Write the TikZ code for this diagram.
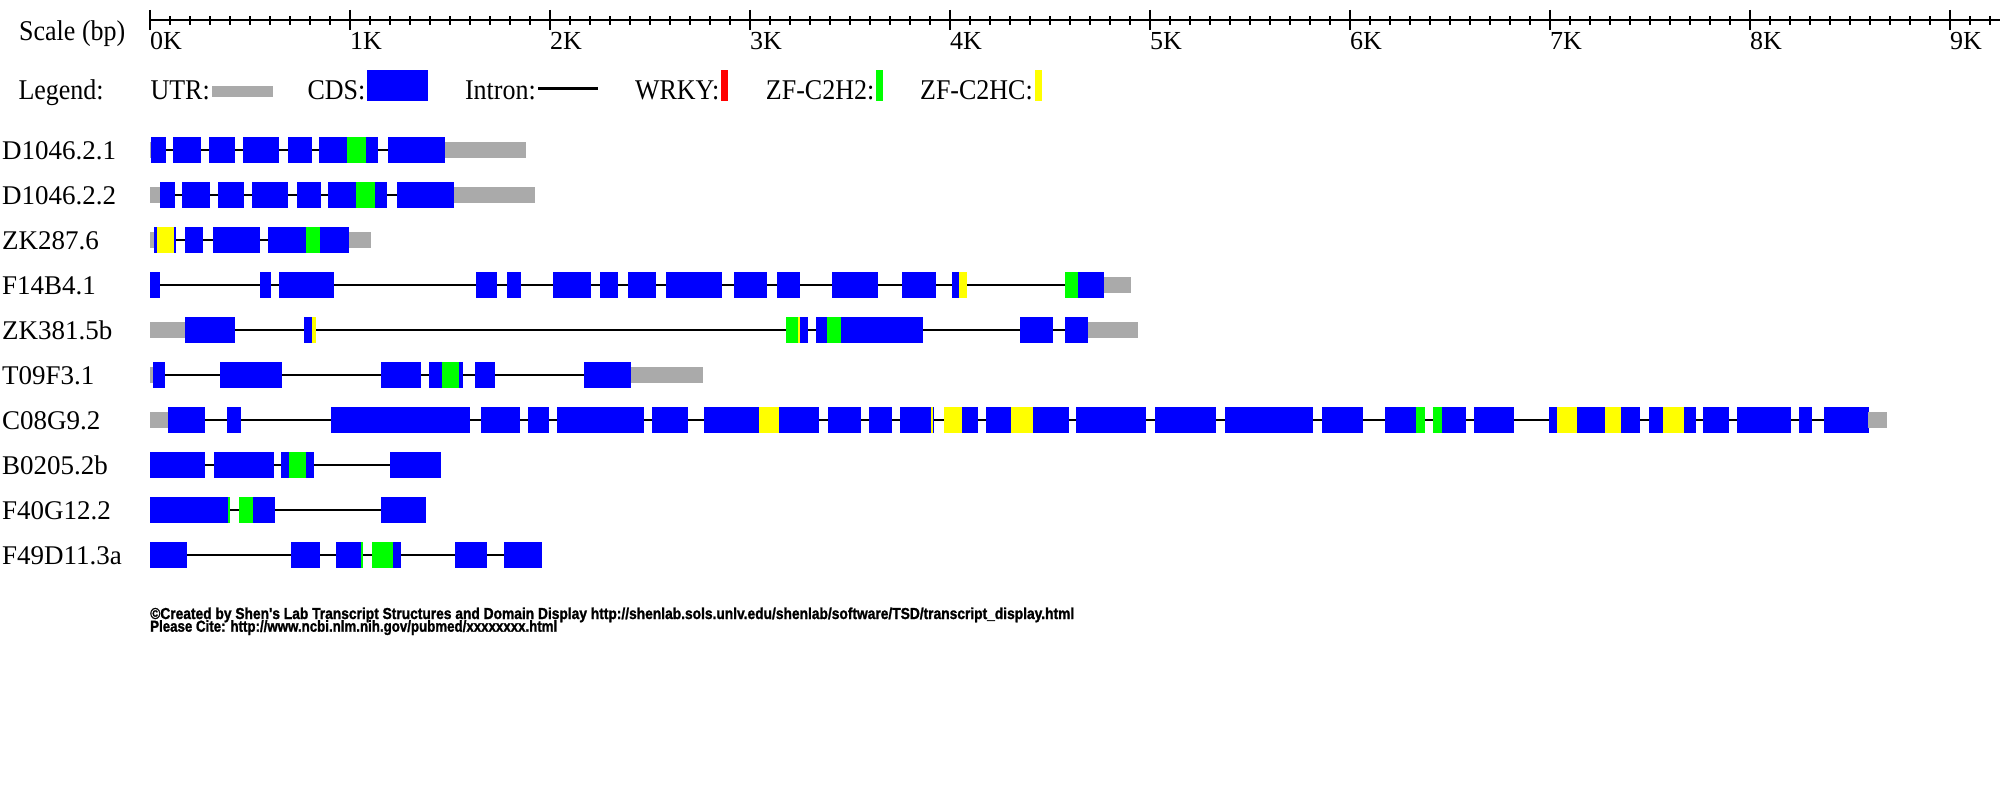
\documentclass[tikz,border=0pt]{standalone}
\usepackage{fontspec}
\setmainfont{Liberation Serif}
\newfontfamily\footfont{Liberation Sans}[BoldFeatures={FakeBold=1.5}]
\usepackage{graphicx}
\definecolor{utrc}{HTML}{AAAAAA}
\definecolor{cdsc}{HTML}{0000FF}
\definecolor{grnc}{HTML}{00FF00}
\definecolor{yelc}{HTML}{FFFF00}
\definecolor{redc}{HTML}{FF0000}
\newcommand\mkI[3]{\draw[intronline] (#2,#1) -- (#3,#1);}
\newcommand\mkU[3]{\fill[utrc] (#2,#1-7.8) rectangle (#3,#1+7.8);}
\newcommand\mkC[3]{\fill[cdsc] (#2,#1-12.8) rectangle (#3,#1+12.8);}
\newcommand\mkG[3]{\fill[grnc] (#2,#1-12.8) rectangle (#3,#1+12.8);}
\newcommand\mkY[3]{\fill[yelc] (#2,#1-12.8) rectangle (#3,#1+12.8);}
\newcommand\mktall[1]{\scalebox{1}[1.1]{#1}}
\begin{document}
\begin{tikzpicture}[x=1pt,y=-1pt,
  intronline/.style={line width=2pt,black},
  axisline/.style={line width=1.3pt,black},
  txt/.style={inner sep=0pt,font=\fontsize{26}{30}\selectfont},
  rowlbl/.style={inner sep=0pt,anchor=base west,font=\fontsize{27}{30}\selectfont},
  foot/.style={inner sep=0pt,anchor=base west,font=\footfont\bfseries}]
\useasboundingbox (0,0) rectangle (2000,810);
\fill[white] (0,0) rectangle (2000,810);
% scale
\node[txt,anchor=base west] (scalelbl) at (19,40.7) {\mktall{Scale (bp)}};
\draw[axisline] (150,20) -- (2000,20);
\foreach \i in {0,...,92} \draw[axisline] (150+20*\i,16) -- (150+20*\i,25);
\foreach \mj in {0,...,9} {
  \draw[axisline] (150+200*\mj,10) -- (150+200*\mj,30);
  \node[txt,anchor=base west] (ax\mj) at (150+200*\mj,50) {\mj K};
}
% legend
\node[txt,anchor=base west] (leg) at (18.3,100) {\mktall{Legend:}};
\node[txt,anchor=base east] (legutr) at (210,100) {\mktall{UTR:}};
\fill[utrc] (212,86) rectangle (273.3,96.7);
\node[txt,anchor=base east] (legcds) at (365.5,100) {\mktall{CDS:}};
\fill[cdsc] (367,70) rectangle (428,100.7);
\node[txt,anchor=base east] (legint) at (536,100) {\mktall{Intron:}};
\draw[line width=3pt] (538,89) -- (598,89);
\node[txt,anchor=base east] (legwrky) at (719.5,100) {\mktall{WRKY:}};
\fill[redc] (721.4,70) rectangle (728,100.7);
\node[txt,anchor=base east] (legh2) at (874.5,100) {\mktall{ZF-C2H2:}};
\fill[grnc] (876,70) rectangle (883,100.7);
\node[txt,anchor=base east] (leghc) at (1033,100) {\mktall{ZF-C2HC:}};
\fill[yelc] (1035,70) rectangle (1041.7,100.7);
% row labels
\node[rowlbl] (r1) at (2,159.5) {D1046.2.1};
\node[rowlbl] (r2) at (2,204.5) {D1046.2.2};
\node[rowlbl] (r3) at (2,249.5) {ZK287.6};
\node[rowlbl] (r4) at (2,294.5) {F14B4.1};
\node[rowlbl] (r5) at (2,339.5) {ZK381.5b};
\node[rowlbl] (r6) at (2,384.5) {T09F3.1};
\node[rowlbl] (r7) at (2,429.5) {C08G9.2};
\node[rowlbl] (r8) at (2,474.5) {B0205.2b};
\node[rowlbl] (r9) at (2,519.5) {F40G12.2};
\node[rowlbl] (r10) at (2,564.5) {F49D11.3a};
% row 1
\mkI{150}{151}{445}
\mkU{150}{150}{152}
\mkC{150}{151}{166}\mkC{150}{173}{201}\mkC{150}{209}{235}\mkC{150}{243}{279}
\mkC{150}{288}{312}\mkC{150}{319}{378}\mkG{150}{347}{366}\mkC{150}{388}{445}
\mkU{150}{445}{526}
% row 2
\mkI{195}{160}{454}
\mkU{195}{150}{160}
\mkC{195}{160}{175}\mkC{195}{182}{210}\mkC{195}{218}{244}\mkC{195}{252}{288}
\mkC{195}{297}{321}\mkC{195}{328}{387}\mkG{195}{356}{375}\mkC{195}{397}{454}
\mkU{195}{454}{535}
% row 3
\mkI{240}{154}{349}
\mkU{240}{150}{154}
\mkC{240}{154}{176}\mkY{240}{157.3}{174}
\mkC{240}{185}{203}\mkC{240}{213}{260}
\mkC{240}{268}{349}\mkG{240}{306}{320}
\mkU{240}{349}{371}
% row 4
\mkI{285}{150}{1104}
\mkC{285}{150}{160}\mkC{285}{260}{271}\mkC{285}{279}{334}\mkC{285}{476}{497}
\mkC{285}{507}{521}\mkC{285}{553}{591}\mkC{285}{600}{618}\mkC{285}{628}{656}
\mkC{285}{666}{722}\mkC{285}{734}{767}\mkC{285}{777}{800}\mkC{285}{832}{878}
\mkC{285}{902}{936}\mkC{285}{952}{967}\mkY{285}{959}{967}
\mkC{285}{1065}{1104}\mkG{285}{1065}{1078}
\mkU{285}{1104}{1131}
% row 5
\mkI{330}{185}{1088}
\mkU{330}{150}{185}
\mkC{330}{185}{235}
\mkC{330}{304}{315.6}\mkY{330}{312}{315.6}
\mkC{330}{786}{808}\mkG{330}{786}{798}\mkY{330}{798}{799.5}
\mkC{330}{816}{923}\mkG{330}{827}{841}
\mkC{330}{1020}{1053}\mkC{330}{1065}{1088}
\mkU{330}{1088}{1138}
% row 6
\mkI{375}{153}{631}
\mkU{375}{150}{153}
\mkC{375}{153}{165}\mkC{375}{220}{282}\mkC{375}{381}{421}
\mkC{375}{429}{463}\mkG{375}{442}{459}
\mkC{375}{475}{495}\mkC{375}{584}{631}
\mkU{375}{631}{703}
% row 7
\mkI{420}{168}{1868}
\mkU{420}{150}{168}
\mkC{420}{168}{205}\mkC{420}{227}{241}\mkC{420}{331}{470}\mkC{420}{481}{520}
\mkC{420}{528}{549}\mkC{420}{557}{644}\mkC{420}{652}{688}
\mkC{420}{704}{819}\mkY{420}{759}{779}
\mkC{420}{828}{861}\mkC{420}{869}{892}
\mkC{420}{900}{934.4}\mkY{420}{930.8}{933}
\mkC{420}{944}{978}\mkY{420}{944}{962}
\mkC{420}{986}{1069}\mkY{420}{1011}{1033}
\mkC{420}{1076}{1146}\mkC{420}{1155}{1216}\mkC{420}{1225}{1313}\mkC{420}{1322}{1363}
\mkC{420}{1385}{1424.6}\mkG{420}{1416}{1424.6}
\mkC{420}{1433}{1466}\mkG{420}{1433}{1442}
\mkC{420}{1474}{1514}
\mkC{420}{1549}{1640}\mkY{420}{1557}{1577}\mkY{420}{1605}{1621}
\mkC{420}{1649}{1696}\mkY{420}{1663}{1684}
\mkC{420}{1703}{1729}\mkC{420}{1737}{1791}\mkC{420}{1799}{1812}\mkC{420}{1824}{1868.8}
\mkU{420}{1868}{1887}
% row 8
\mkI{465}{150}{441}
\mkC{465}{150}{205}\mkC{465}{214}{274}
\mkC{465}{281}{314}\mkG{465}{289}{306}
\mkC{465}{390}{441}
% row 9
\mkI{510}{150}{426}
\mkC{510}{150}{229.5}\mkG{510}{228}{229.5}
\mkC{510}{239}{275}\mkG{510}{239}{253}
\mkC{510}{381}{426}
% row 10
\mkI{555}{150}{542}
\mkC{555}{150}{186.6}\mkC{555}{291}{320}
\mkC{555}{336}{362.5}\mkG{555}{361}{362.5}
\mkC{555}{372}{401}\mkG{555}{372}{393}
\mkC{555}{455}{487}\mkC{555}{504}{542}
% footer
\node[foot] (foot1) at (150,619) {\resizebox{924pt}{11.5pt}{\copyright Created by Shen's Lab Transcript Structures and Domain Display http://shenlab.sols.unlv.edu/shenlab/software/TSD/transcript\_display.html}};
\node[foot] (foot2) at (150,631.7) {\resizebox{407pt}{11.5pt}{Please Cite: http://www.ncbi.nlm.nih.gov/pubmed/xxxxxxxx.html}};
\end{tikzpicture}
\end{document}
